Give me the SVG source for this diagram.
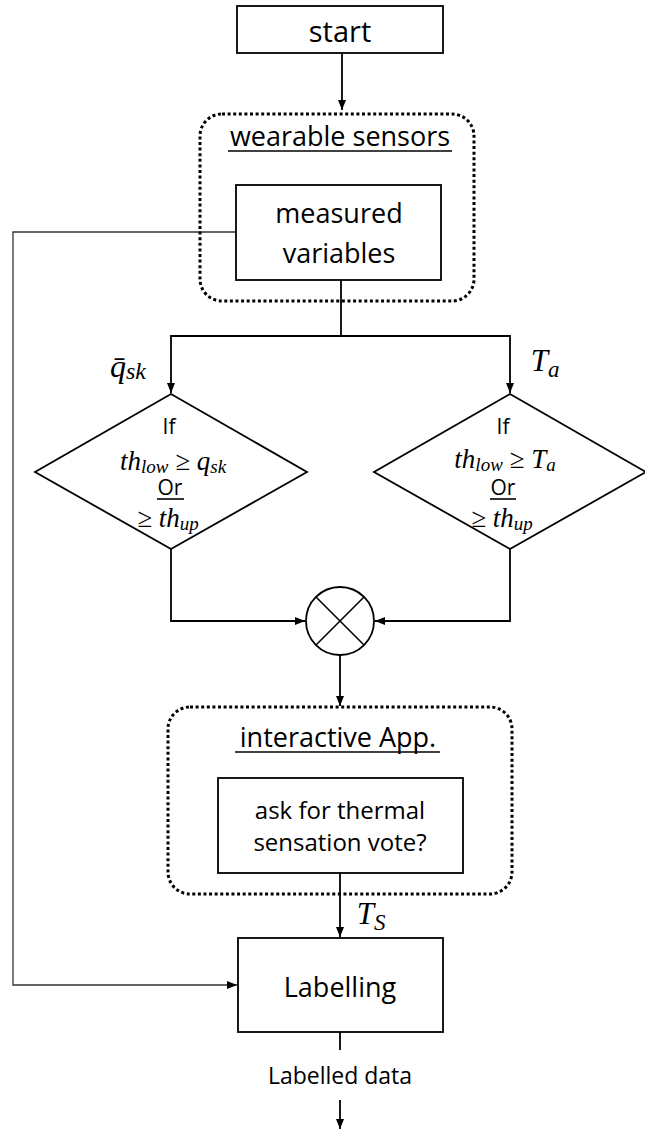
<svg xmlns="http://www.w3.org/2000/svg" width="645" height="1130" viewBox="0 0 645 1130">
<style>
.box{fill:#fff;stroke:#000;stroke-width:1.8}
.dot{fill:none;stroke:#000;stroke-width:3;stroke-dasharray:3 2.6}
.con{fill:none;stroke:#000;stroke-width:1.8}
.thin{fill:none;stroke:#333;stroke-width:1.3}
.t{font-family:"Open Sans","Liberation Sans",sans-serif;fill:#000;text-anchor:middle}
.m{font-family:"Liberation Serif","DejaVu Serif",serif;font-style:italic;fill:#000;text-anchor:middle}
.u{stroke:#000;stroke-width:1.6}
</style>
<defs>
<marker id="arr" viewBox="0 0 10 10" refX="10" refY="5" markerWidth="10" markerHeight="10" markerUnits="userSpaceOnUse" orient="auto">
<path d="M0,1 L10,5 L0,9 z" fill="#000"/>
</marker>
</defs>
<rect width="645" height="1130" fill="#fff"/>

<g id="connectors">
<path class="con" d="M342,53 V110" marker-end="url(#arr)"/>
<path class="con" d="M341,280 V336 H171 V393" marker-end="url(#arr)"/>
<path class="con" d="M341,336 H510 V393" marker-end="url(#arr)"/>
<path class="con" d="M171,549 V621 H305" marker-end="url(#arr)"/>
<path class="con" d="M510,549 V621 H375" marker-end="url(#arr)"/>
<path class="con" d="M340,655 V706" marker-end="url(#arr)"/>
<path class="con" d="M340,873 V937" marker-end="url(#arr)"/>
<path class="thin" d="M236,232 H13 V985 H237" marker-end="url(#arr)"/>
<path class="con" d="M340,1032 V1050"/>
<path class="con" d="M340,1100 V1129" marker-end="url(#arr)"/>
<text class="m" x="128" y="377" font-size="32">q̄<tspan font-size="24" dy="2">sk</tspan></text>
<text class="m" x="545" y="371" font-size="31">T<tspan font-size="23" dy="6">a</tspan></text>
<text class="m" x="371" y="924" font-size="31">T<tspan font-size="23" dy="6">S</tspan></text>
<text class="t" x="340" y="1084" font-size="23">Labelled data</text>
</g>

<g id="start">
<rect class="box" x="237" y="6" width="206" height="47"/>
<text class="t" x="340" y="42" font-size="29">start</text>
</g>

<g id="wearable-sensors">
<rect class="dot" x="200" y="114" width="274" height="187" rx="22"/>
<text class="t" x="340" y="146" font-size="27">wearable sensors</text>
<line class="u" x1="228" y1="151" x2="452" y2="151"/>
</g>

<g id="measured-variables">
<rect class="box" x="236" y="185" width="205" height="95"/>
<text class="t" x="339" y="223" font-size="27">measured</text>
<text class="t" x="339" y="263" font-size="27">variables</text>
</g>

<g id="decision-qsk">
<polygon class="box" points="171,394 307,472 171,549 35,472"/>
<text class="t" x="169" y="434" font-size="21">If</text>
<text class="m" x="173" y="470" font-size="27">th<tspan font-size="19" dy="3">low</tspan><tspan dy="-3"> ≥ q</tspan><tspan font-size="19" dy="3">sk</tspan></text>
<text class="t" x="170" y="495" font-size="21">Or</text>
<line class="u" x1="157" y1="499" x2="184" y2="499"/>
<text class="m" x="168" y="527" font-size="27">≥ th<tspan font-size="19" dy="3">up</tspan></text>
</g>

<g id="decision-ta">
<polygon class="box" points="510,394 646,472 510,549 374,472"/>
<text class="t" x="503" y="434" font-size="21">If</text>
<text class="m" x="505" y="468" font-size="27">th<tspan font-size="19" dy="3">low</tspan><tspan dy="-3"> ≥ T</tspan><tspan font-size="19" dy="3">a</tspan></text>
<text class="t" x="503" y="495" font-size="21">Or</text>
<line class="u" x1="490" y1="499" x2="516" y2="499"/>
<text class="m" x="502" y="527" font-size="27">≥ th<tspan font-size="19" dy="3">up</tspan></text>
</g>

<g id="combine">
<circle cx="340" cy="621" r="34" fill="#fff" stroke="#000" stroke-width="1.8"/>
<line class="u" x1="316" y1="597" x2="364" y2="645" stroke-width="1.8"/>
<line class="u" x1="364" y1="597" x2="316" y2="645" stroke-width="1.8"/>
</g>

<g id="interactive-app">
<rect class="dot" x="168" y="707" width="344" height="187" rx="22"/>
<text class="t" x="338" y="747" font-size="27">interactive App.</text>
<line class="u" x1="235" y1="752" x2="440" y2="752"/>
</g>

<g id="ask-vote">
<rect class="box" x="218" y="778" width="245" height="95"/>
<text class="t" x="340" y="819" font-size="24">ask for thermal</text>
<text class="t" x="340" y="851" font-size="24">sensation vote?</text>
</g>

<g id="labelling">
<rect class="box" x="238" y="938" width="205" height="94"/>
<text class="t" x="340" y="997" font-size="27">Labelling</text>
</g>
</svg>
